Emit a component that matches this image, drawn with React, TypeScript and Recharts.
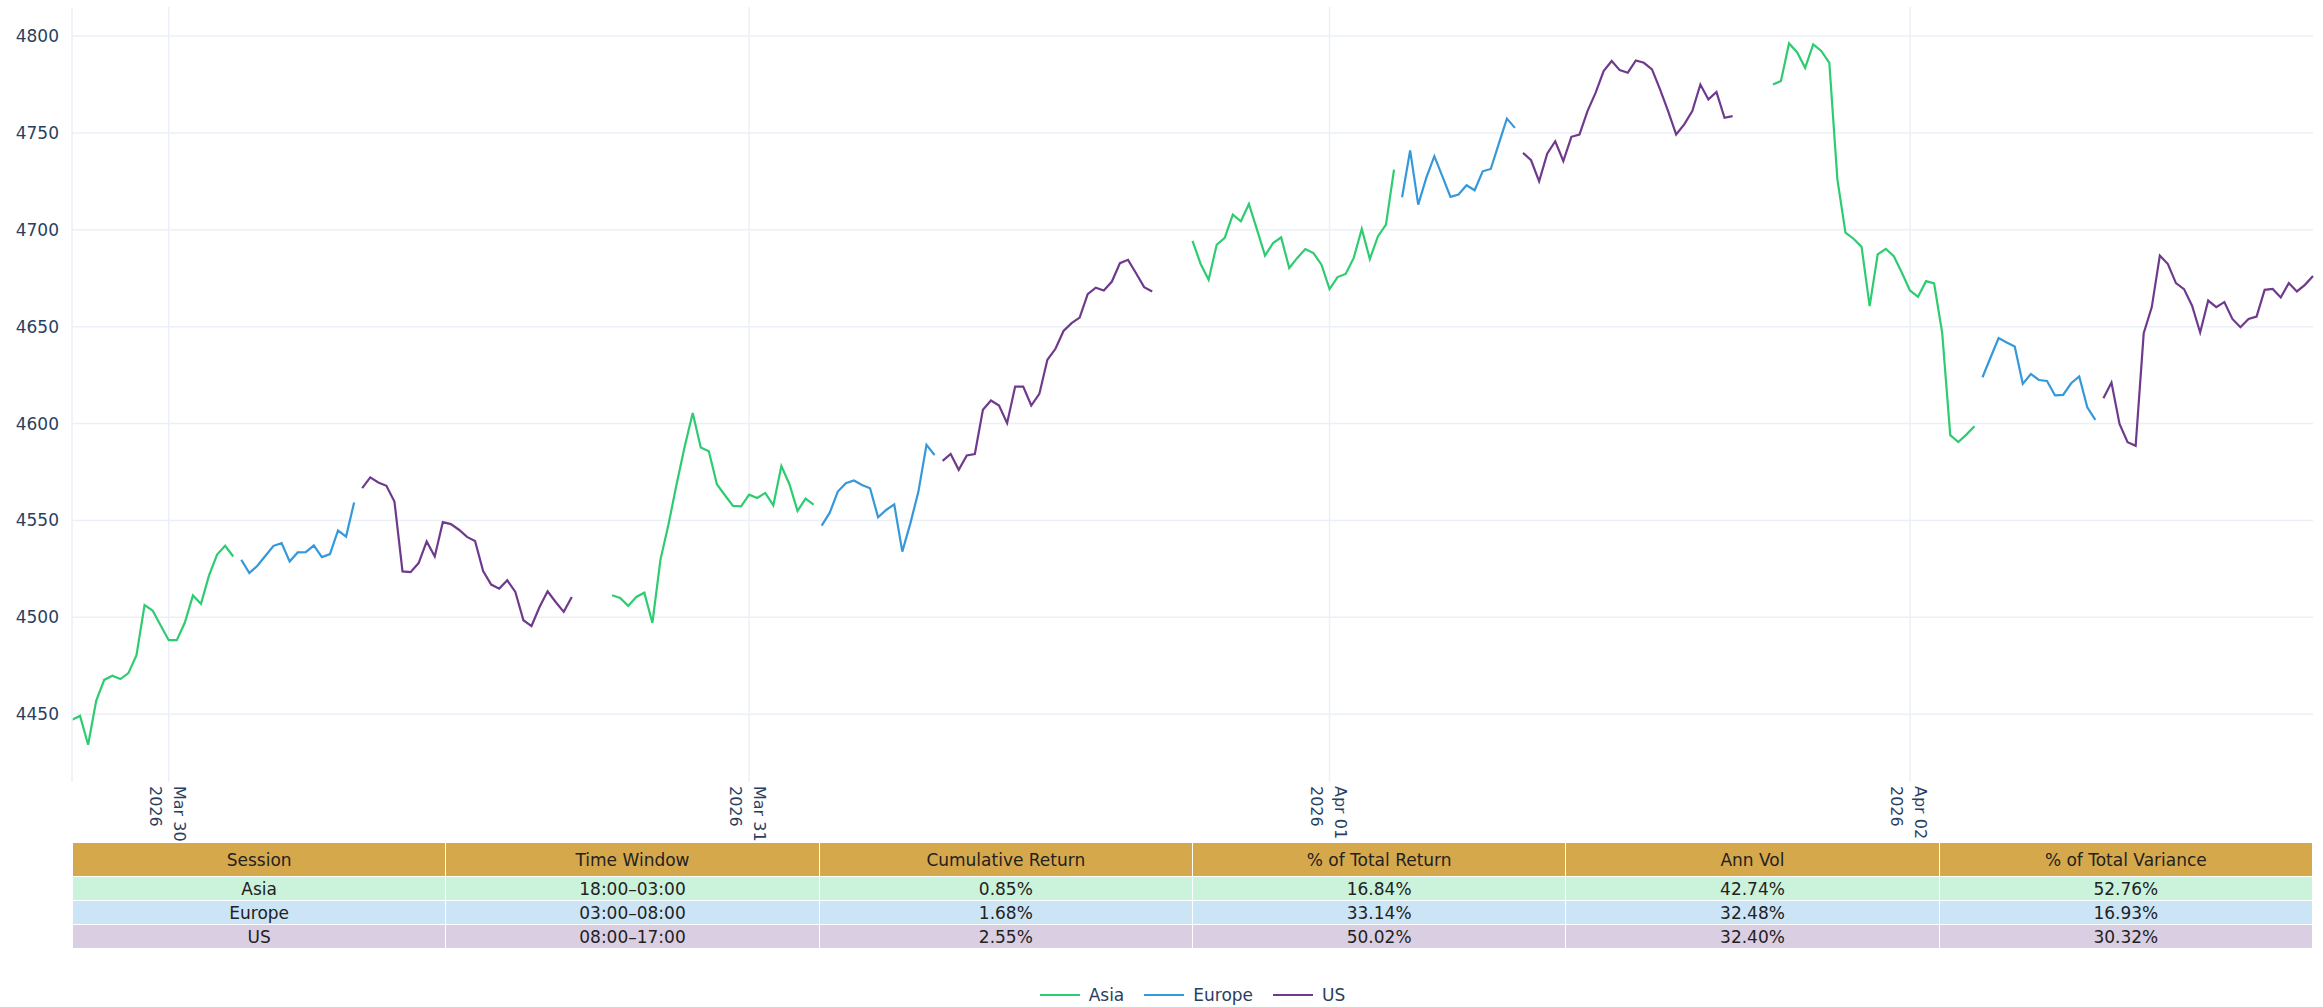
import { LineChart, Line, XAxis, YAxis, ReferenceLine } from 'recharts'

const FONT = '"DejaVu Sans", Verdana, sans-serif'
const INK = '#2a3f5f'
const GRID = '#ebf0f8'

// 20-minute closes, one array per session block
const asiaMar29 = [4447.1, 4449.1, 4434.2, 4456.9, 4467.7, 4469.8, 4468.1, 4471.2, 4480.5, 4506.3, 4503.5, 4495.8, 4488.2, 4488.2, 4497.3, 4511.3, 4507.0, 4521.6, 4532.4, 4536.9, 4531.4]
const europeMar30 = [4529.7, 4522.8, 4526.6, 4531.8, 4536.9, 4538.3, 4528.8, 4533.5, 4533.6, 4537.1, 4531.1, 4532.6, 4544.8, 4541.7, 4559.3]
const usMar30 = [4566.7, 4572.2, 4569.6, 4567.9, 4559.8, 4523.7, 4523.3, 4528.0, 4539.2, 4531.4, 4549.1, 4548.1, 4545.2, 4541.5, 4539.4, 4523.9, 4516.9, 4514.8, 4519.1, 4513.1, 4498.5, 4495.5, 4505.3, 4513.4, 4507.9, 4502.8, 4510.5]
const asiaMar30 = [4511.4, 4510.0, 4505.9, 4510.5, 4512.7, 4497.1, 4529.8, 4548.0, 4568.7, 4588.0, 4605.5, 4587.6, 4585.7, 4568.7, 4563.0, 4557.5, 4557.3, 4563.3, 4561.6, 4564.2, 4557.8, 4578.1, 4568.7, 4554.9, 4561.3, 4558.2]
const europeMar31 = [4547.3, 4554.0, 4564.9, 4569.2, 4570.6, 4568.3, 4566.6, 4551.6, 4555.4, 4558.3, 4533.9, 4548.5, 4564.9, 4589.0, 4583.8]
const usMar31 = [4580.7, 4584.3, 4576.1, 4583.5, 4584.3, 4607.1, 4611.9, 4609.3, 4600.2, 4619.1, 4619.1, 4609.3, 4615.3, 4632.9, 4638.6, 4647.8, 4651.8, 4654.7, 4666.8, 4670.1, 4668.7, 4673.3, 4682.8, 4684.5, 4677.6, 4670.4, 4668.2]
const asiaMar31 = [4694.3, 4682.5, 4674.2, 4692.3, 4695.8, 4707.8, 4704.4, 4713.3, 4700.1, 4686.7, 4693.2, 4696.1, 4680.3, 4685.5, 4690.1, 4688.0, 4682.0, 4669.4, 4675.6, 4677.2, 4685.5, 4700.5, 4684.9, 4696.6, 4702.7, 4731.1]
const europeApr01 = [4716.8, 4741.0, 4713.0, 4726.8, 4738.0, 4727.6, 4717.0, 4718.2, 4723.0, 4720.4, 4730.2, 4731.4, 4744.5, 4757.4, 4752.6]
const usApr01 = [4739.7, 4735.9, 4725.0, 4739.3, 4745.7, 4735.5, 4748.0, 4749.2, 4761.3, 4770.7, 4781.9, 4787.1, 4782.4, 4781.1, 4787.4, 4786.2, 4782.8, 4772.5, 4761.3, 4749.2, 4754.4, 4761.3, 4775.0, 4767.3, 4771.1, 4757.8, 4758.7]
const asiaApr01 = [4775.0, 4776.8, 4796.2, 4791.7, 4783.6, 4795.7, 4792.3, 4786.2, 4726.0, 4698.5, 4695.4, 4691.2, 4660.6, 4687.3, 4690.2, 4686.4, 4677.8, 4668.7, 4665.4, 4673.5, 4672.3, 4646.8, 4594.0, 4590.5, 4594.3, 4598.6]
const europeApr02 = [4623.9, 4634.1, 4644.1, 4641.8, 4639.8, 4620.5, 4625.6, 4622.5, 4622.0, 4614.5, 4614.8, 4620.8, 4624.3, 4608.4, 4601.9]
const usApr02 = [4613.1, 4621.2, 4599.8, 4590.4, 4588.5, 4646.6, 4660.1, 4686.7, 4682.3, 4672.5, 4669.4, 4660.8, 4647.0, 4663.5, 4660.1, 4662.7, 4654.0, 4649.7, 4654.0, 4655.2, 4669.0, 4669.5, 4665.1, 4672.5, 4668.2, 4671.6, 4676.2]

const segments = [
  { session: 'asia', start: '2026-03-29T20:00', values: asiaMar29 },
  { session: 'europe', start: '2026-03-30T03:00', values: europeMar30 },
  { session: 'us', start: '2026-03-30T08:00', values: usMar30 },
  { session: 'asia', start: '2026-03-30T18:20', values: asiaMar30 },
  { session: 'europe', start: '2026-03-31T03:00', values: europeMar31 },
  { session: 'us', start: '2026-03-31T08:00', values: usMar31 },
  { session: 'asia', start: '2026-03-31T18:20', values: asiaMar31 },
  { session: 'europe', start: '2026-04-01T03:00', values: europeApr01 },
  { session: 'us', start: '2026-04-01T08:00', values: usApr01 },
  { session: 'asia', start: '2026-04-01T18:20', values: asiaApr01 },
  { session: 'europe', start: '2026-04-02T03:00', values: europeApr02 },
  { session: 'us', start: '2026-04-02T08:00', values: usApr02 },
]

const dayTicks = ['2026-03-30', '2026-03-31', '2026-04-01', '2026-04-02']
const dayLabels = ['Mar 30', 'Mar 31', 'Apr 01', 'Apr 02']
const tickYear = '2026'
const priceTicks = [4450, 4500, 4550, 4600, 4650, 4700, 4750, 4800]

// summary table
const sessionNames = ['Asia', 'Europe', 'US']
const timeWindows = ['18:00–03:00', '03:00–08:00', '08:00–17:00']
const cumReturn = ['0.85%', '1.68%', '2.55%']
const pctTotalReturn = ['16.84%', '33.14%', '50.02%']
const annVol = ['42.74%', '32.48%', '32.40%']
const pctTotalVar = ['52.76%', '16.93%', '30.32%']
const tableHeader = ['Session', 'Time Window', 'Cumulative Return', '% of Total Return', 'Ann Vol', '% of Total Variance']

const LINE_COLORS: Record<string, string> = { asia: '#2ecc71', europe: '#3498db', us: '#6f3a8c' }
const ROW_COLORS = ['#cbf2db', '#cce5f6', '#dacfe2']

const STEP = 20 * 60 * 1000
const toMs = (s: string) => Date.parse(s + ':00Z')

const data = segments.flatMap((seg) =>
  seg.values.map((v, i) => ({
    t: toMs(seg.start) + i * STEP,
    asia: null as number | null,
    europe: null as number | null,
    us: null as number | null,
    [seg.session]: v,
  }))
)

const xTicks = dayTicks.map((d) => toMs(d + 'T00:00'))
const tMin = data[0].t
const tMax = data[data.length - 1].t

function DateTick({ x, y, index }: any) {
  return (
    <g transform={`translate(${x},${y})`}>
      <text transform="rotate(90)" fontFamily={FONT} fontSize={16} fill={INK}>
        <tspan x={4} y={-5}>{dayLabels[index]}</tspan>
        <tspan x={4} y={19}>{tickYear}</tspan>
      </text>
    </g>
  )
}

export default function App() {
  const rows = sessionNames.map((name, i) => [name, timeWindows[i], cumReturn[i], pctTotalReturn[i], annVol[i], pctTotalVar[i]])
  return (
    <div style={{ position: 'absolute', left: 0, top: 0, width: 2323, height: 1007, background: '#fff', fontFamily: FONT }}>
      <LineChart width={2323} height={1007} data={data} margin={{ top: 7, right: 10, bottom: 165, left: 0 }}>
        <XAxis
          dataKey="t"
          type="number"
          domain={[tMin, tMax]}
          ticks={xTicks}
          height={60}
          tickSize={0}
          tickMargin={0}
          axisLine={false}
          tickLine={false}
          tick={<DateTick />}
          interval={0}
        />
        <YAxis
          type="number"
          domain={[4415, 4815]}
          ticks={priceTicks}
          width={72}
          tickSize={0}
          tickMargin={13}
          axisLine={{ stroke: GRID, strokeWidth: 1.5 }}
          tickLine={false}
          tick={{ fontFamily: FONT, fontSize: 17, fill: INK }}
          interval={0}
        />
        {priceTicks.map((v) => (
          <ReferenceLine key={'y' + v} y={v} stroke={GRID} strokeWidth={1.5} />
        ))}
        {xTicks.map((t) => (
          <ReferenceLine key={'x' + t} x={t} stroke={GRID} strokeWidth={1.5} />
        ))}
        {['asia', 'europe', 'us'].map((k) => (
          <Line
            key={k}
            dataKey={k}
            stroke={LINE_COLORS[k]}
            strokeWidth={2.2}
            dot={false}
            activeDot={false}
            connectNulls={false}
            isAnimationActive={false}
            type="linear"
          />
        ))}
      </LineChart>

      <table
        style={{
          position: 'absolute',
          left: 72,
          top: 842,
          width: 2241,
          borderCollapse: 'collapse',
          tableLayout: 'fixed',
          fontSize: 17,
          color: '#222',
          textAlign: 'center',
        }}
      >
        <thead>
          <tr style={{ background: '#d6a84c', height: 34 }}>
            {tableHeader.map((h) => (
              <th key={h} style={{ border: '1px solid #fff', fontWeight: 'normal', padding: 0 }}>{h}</th>
            ))}
          </tr>
        </thead>
        <tbody>
          {rows.map((r, i) => (
            <tr key={i} style={{ background: ROW_COLORS[i], height: 24 }}>
              {r.map((c, j) => (
                <td key={j} style={{ border: '1px solid #fff', padding: 0, lineHeight: '22px' }}>{c}</td>
              ))}
            </tr>
          ))}
        </tbody>
      </table>

      <div
        style={{
          position: 'absolute',
          top: 984,
          left: 0,
          width: 2323,
          display: 'flex',
          justifyContent: 'center',
          paddingLeft: 72,
          paddingRight: 10,
          boxSizing: 'border-box',
          fontSize: 17,
          color: INK,
        }}
      >
        {sessionNames.map((name, i) => (
          <div key={name} style={{ display: 'flex', alignItems: 'center', marginLeft: i ? 20 : 0 }}>
            <svg width={40} height={22}>
              <line x1={0} y1={11} x2={40} y2={11} stroke={LINE_COLORS[name.toLowerCase()]} strokeWidth={2.2} />
            </svg>
            <span style={{ marginLeft: 9, lineHeight: '22px' }}>{name}</span>
          </div>
        ))}
      </div>
    </div>
  )
}
